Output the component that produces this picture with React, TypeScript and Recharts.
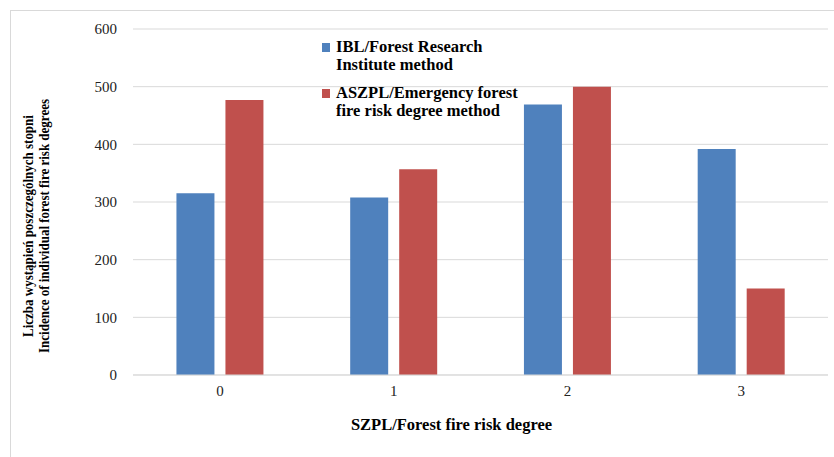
import { BarChart, Bar, XAxis, YAxis, CartesianGrid, Legend } from "recharts";

const degrees = ["0", "1", "2", "3"];
const iblValues = [315, 308, 469, 392];
const aszplValues = [477, 357, 500, 150];
const yTicks = [0, 100, 200, 300, 400, 500, 600];

const seriesNames = ["IBL/Forest Research\nInstitute method", "ASZPL/Emergency forest\nfire risk degree method"];
const seriesColors = ["#4f81bd", "#c0504d"];

const data = degrees.map((d, i) => ({ degree: d, ibl: iblValues[i], aszpl: aszplValues[i] }));

const serif = "Liberation Serif";

function LegendBox() {
  return (
    <div style={{ fontFamily: serif, fontWeight: "bold", fontSize: 16.5, color: "#000", lineHeight: "18px" }}>
      {seriesNames.map((name, i) => (
        <div key={name} style={{ display: "flex", alignItems: "flex-start", marginBottom: i === 0 ? 10 : 0 }}>
          <span
            style={{
              display: "inline-block",
              width: 8,
              height: 9,
              background: seriesColors[i],
              marginTop: 5,
              marginRight: 6,
              flex: "none",
            }}
          />
          <span style={{ whiteSpace: "pre" }}>{name}</span>
        </div>
      ))}
    </div>
  );
}

// rotated title, stretched a bit across like the source image
function YTitle() {
  return (
    <text
      transform="translate(0,215) rotate(-90) scale(1,1.2)"
      textAnchor="middle"
      fontFamily={serif}
      fontWeight="bold"
      fontSize={13}
      fill="#000"
    >
      <tspan x={0} y={18.5}>Liczba wystąpień poszczególnych stopni</tspan>
      <tspan x={0} y={31.7}>Incidence of individual  forest fire risk degrees</tspan>
    </text>
  );
}

export default function App() {
  return (
    <div
      style={{
        position: "absolute",
        left: 10,
        top: 10,
        width: 824,
        height: 447,
        border: "1px solid #d9d9d9",
        background: "#fff",
        fontFamily: serif,
      }}
    >
      <BarChart
        width={824}
        height={447}
        data={data}
        margin={{ top: 18, right: 7, left: 0, bottom: 27 }}
        barCategoryGap="25%"
        barGap={11}
        style={{ fontFamily: serif }}
      >
        <CartesianGrid vertical={false} stroke="#d9d9d9" />
        <XAxis
          dataKey="degree"
          axisLine={{ stroke: "#d9d9d9" }}
          tickLine={false}
          tickSize={0}
          tickMargin={10}
          height={56}
          tick={{ fontFamily: serif, fontSize: 15, fill: "#222" }}
          label={{
            value: "SZPL/Forest fire risk degree",
            position: "insideBottom",
            offset: 1,
            dx: -29,
            style: { fontFamily: serif, fontWeight: "bold", fontSize: 16.5, fill: "#000" },
          }}
        />
        <YAxis
          width={122}
          domain={[0, 600]}
          ticks={yTicks}
          axisLine={false}
          tickLine={false}
          tickSize={0}
          tickMargin={16}
          tick={{ fontFamily: serif, fontSize: 15, fill: "#222" }}
          label={<YTitle />}
        />
        <Legend
          layout="vertical"
          align="center"
          verticalAlign="middle"
          wrapperStyle={{ left: 311, top: 27, width: 280 }}
          content={() => <LegendBox />}
        />
        <Bar dataKey="ibl" name={seriesNames[0]} fill={seriesColors[0]} isAnimationActive={false} />
        <Bar dataKey="aszpl" name={seriesNames[1]} fill={seriesColors[1]} isAnimationActive={false} />
      </BarChart>
    </div>
  );
}
